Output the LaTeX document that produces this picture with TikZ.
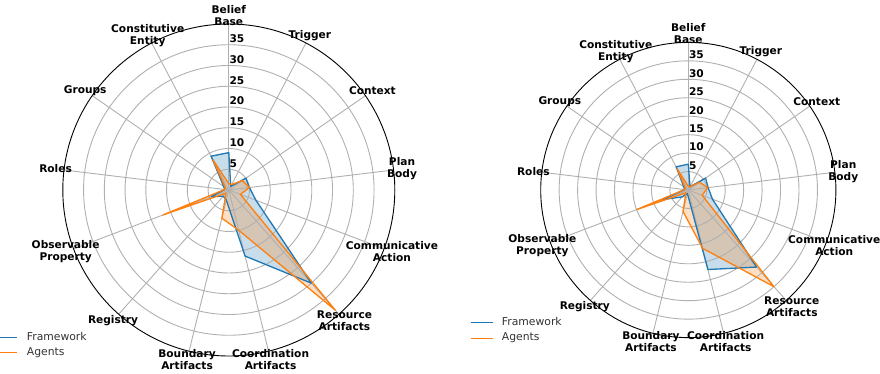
\documentclass[tikz,border=0pt]{standalone}
\usepackage{fontspec}
\setmainfont{DejaVu Sans}
\usetikzlibrary{calc}
\definecolor{mblue}{HTML}{1F77B4}
\definecolor{morange}{HTML}{FF7F0E}
\definecolor{mgrid}{HTML}{B0B0B0}
\tikzset{
  gridline/.style={draw=mgrid, line width=0.9pt},
  spine/.style={draw=black, line width=0.9pt},
  catlabel/.style={font=\bfseries\fontsize{10.6}{12}\selectfont, align=center, inner sep=0pt},
  ticklabel/.style={font=\bfseries\fontsize{10.6}{12}\selectfont, anchor=west, inner sep=0pt},
  fwline/.style={draw=mblue, line width=1.3pt, line join=round},
  agline/.style={draw=morange, line width=1.3pt, line join=round},
  fwfill/.style={fill=mblue, fill opacity=0.25},
  agfill/.style={fill=morange, fill opacity=0.25},
  legtext/.style={font=\fontsize{10.8}{12}\selectfont, anchor=west, inner sep=0pt, text=black!80},
}
% #1 prefix, #2 cx, #3 cy, #4 R (for 40), #5 framework values, #6 agent values
\newcommand\drawradar[6]{%
  \coordinate (#1c) at (#2,#3);
  \pgfmathsetmacro\rsc{#4/40}
  \foreach \v [count=\k from 0] in {#5} {
    \coordinate (#1F\k) at ($(#1c)+({90-\k*360/13}:{\v*\rsc})$);
  }
  \foreach \v [count=\k from 0] in {#6} {
    \coordinate (#1A\k) at ($(#1c)+({90-\k*360/13}:{\v*\rsc})$);
  }
  \fill[fwfill] (#1F0) \foreach \k in {1,...,12}{-- (#1F\k)} -- cycle;
  \fill[agfill] (#1A0) \foreach \k in {1,...,12}{-- (#1A\k)} -- cycle;
  \foreach \t in {1,...,7} {
    \draw[gridline] (#1c) circle[radius={\t*5*\rsc}];
  }
  \foreach \k in {0,...,12} {
    \draw[gridline] (#1c) -- ($(#1c)+({90-\k*360/13}:#4)$);
  }
  \draw[fwline] (#1F0) \foreach \k in {1,...,12}{-- (#1F\k)} -- cycle;
  \draw[agline] (#1A0) \foreach \k in {1,...,12}{-- (#1A\k)} -- cycle;
  \draw[spine] (#1c) circle[radius=#4];
  \foreach \t in {5,10,...,35} {
    \node[ticklabel] at ($(#1c)+(0.6,{\t*\rsc+6})$) {\t};
  }
  \foreach \n [count=\k from 0] in {{Belief\\Base},Trigger,Context,{Plan\\Body},{Communicative\\Action},{Resource\\Artifacts},{Coordination\\Artifacts},{Boundary\\Artifacts},Registry,{Observable\\Property},Roles,Groups,{Constitutive\\Entity}} {
    \node[catlabel] (#1L\k) at ($(#1c)+({90-\k*360/13}:{#4+8.5})$) {\n};
  }
}
\begin{document}
\begin{tikzpicture}[x=1pt,y=1pt]
  \useasboundingbox (0,0) rectangle (880,374);
  \drawradar{L}{228.8}{184}{166}{9,1,5,5,7,30,16.4,2.5,2,4.5,1,1.5,9.2}{1.5,1.5,4,5,3,38.7,10,7,1,17,1,1,8.2}
  \drawradar{R}{688.3}{184}{147.6}{7,1,5.7,5.4,7,27.9,22.2,1,2.5,7.3,1,1.5,7.1}{1,1,3.7,5.3,4,35,16.3,6,1,15,1,1,6.5}
  % legends
  \coordinate (lgf1) at (0,36.8);
  \coordinate (lgf2) at (17.3,36.8);
  \coordinate (lga1) at (0,21.2);
  \coordinate (lga2) at (17.3,21.2);
  \draw[fwline] (lgf1) -- (lgf2);
  \draw[agline] (lga1) -- (lga2);
  \node[legtext] (lgft) at (26.7,37.3) {Framework};
  \node[legtext] (lgat) at (26.7,21.7) {Agents};
  \coordinate (rgf1) at (470.7,51.8);
  \coordinate (rgf2) at (492.7,51.8);
  \coordinate (rga1) at (470.7,35.8);
  \coordinate (rga2) at (492.7,35.8);
  \draw[fwline] (rgf1) -- (rgf2);
  \draw[agline] (rga1) -- (rga2);
  \node[legtext] (rgft) at (501.7,52.3) {Framework};
  \node[legtext] (rgat) at (501.7,36.3) {Agents};
\end{tikzpicture}
\end{document}
